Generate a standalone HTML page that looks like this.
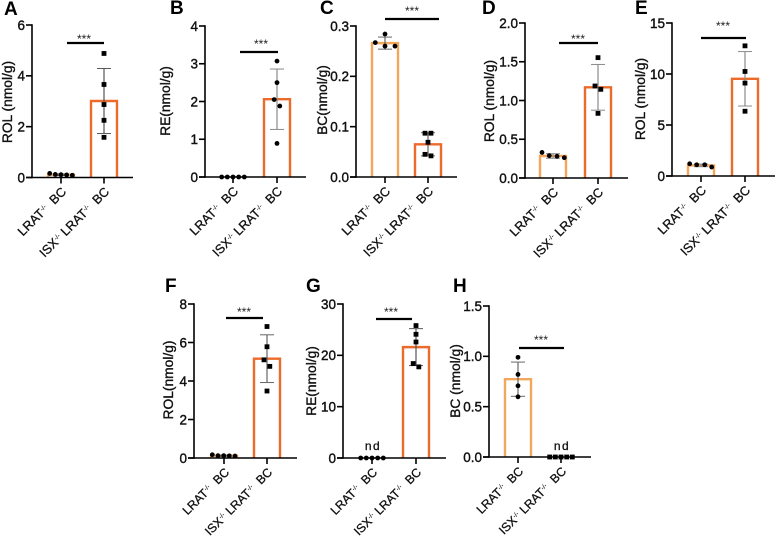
<!DOCTYPE html>
<html>
<head>
<meta charset="utf-8">
<style>
html,body{margin:0;padding:0;background:#fff;width:776px;height:541px;overflow:hidden}
svg{display:block;font-family:"Liberation Sans",sans-serif}
</style>
</head>
<body>
<svg id="figure" width="776" height="541" viewBox="0 0 776 541" xmlns="http://www.w3.org/2000/svg"></svg>
<script>
// ---- Data ----
const categoriesLeftFirst = ['LRAT', 'ISX'];

const aTicks = ['0', '2', '4', '6'];
const aLeftValues = [0.16, 0.12, 0.11, 0.10, 0.09];
const aRightValues = [4.88, 3.66, 2.87, 2.25, 1.58];
const aMeans = [0.11, 3.01];
const aErrors = [0.03, 1.28];

const bTicks = ['0', '1', '2', '3', '4'];
const bLeftValues = [0, 0, 0, 0, 0];
const bRightValues = [3.07, 2.5, 2.05, 1.88, 0.89];
const bMeans = [0, 2.06];
const bErrors = [0, 0.8];

const cTicks = ['0.0', '0.1', '0.2', '0.3'];
const cLeftValues = [0.267, 0.284, 0.26, 0.26];
const cRightValues = [0.087, 0.087, 0.069, 0.045, 0.042];
const cMeans = [0.266, 0.065];
const cErrors = [0.012, 0.023];

const dTicks = ['0.0', '0.5', '1.0', '1.5', '2.0'];
const dLeftValues = [0.33, 0.288, 0.28, 0.262];
const dRightValues = [1.553, 1.187, 1.144, 0.834];
const dMeans = [0.284, 1.17];
const dErrors = [0.03, 0.295];

const eTicks = ['0', '5', '10', '15'];
const eLeftValues = [1.2, 1.1, 1.1, 0.88];
const eRightValues = [12.76, 10.25, 9.11, 6.35];
const eMeans = [1.04, 9.53];
const eErrors = [0.13, 2.67];

const fTicks = ['0', '2', '4', '6', '8'];
const fLeftValues = [0.17, 0.12, 0.12, 0.11, 0.1];
const fRightValues = [6.83, 5.78, 5.1, 4.76, 3.48];
const fMeans = [0.12, 5.16];
const fErrors = [0.03, 1.24];

const gTicks = ['0', '10', '20', '30'];
const gLeftValues = [0, 0, 0, 0, 0];
const gRightValues = [25.8, 24.1, 22.6, 18.4, 17.75];
const gMeans = [0, 21.6];
const gErrors = [0, 3.6];

const hTicks = ['0.0', '0.5', '1.0', '1.5'];
const hLeftValues = [0.99, 0.82, 0.707, 0.598];
const hRightValues = [0, 0, 0, 0, 0];
const hMeans = [0.773, 0];
const hErrors = [0.17, 0];

// ---- Panel wiring and layout ----
const LIGHT = '#f3a75c', DARK = '#ec6a2a';
const panels = [
 {id:'A',yTitle:'ROL (nmol/g)',max:6,ticks:aTicks,left:aLeftValues,right:aRightValues,means:aMeans,errs:aErrors,xFont:12.7,
  ax:32,top:25,bottom:177.5,end:133,t1:61,t2:104,sig:[67,104,43],star:[84,38],lx:4,ly:15,tx:12,ty:102,
  leftJ:[-11.3,-5.7,0,5.7,11.3],rightJ:[0,0,0,0,0],leftS:'circle',rightS:'square',err:'#555'},
 {id:'B',yTitle:'RE(nmol/g)',max:4,ticks:bTicks,left:bLeftValues,right:bRightValues,means:bMeans,errs:bErrors,xFont:12.7,
  ax:205,top:26,bottom:177,end:306,t1:233,t2:277,sig:[240,278,52],star:[261,43],lx:170,ly:14,tx:170,ty:101,
  leftJ:[-11.3,-5.7,0,5.7,11.3],rightJ:[0,0,-2.8,2.8,0],leftS:'circle',rightS:'circle',err:'#8a8a8a'},
 {id:'C',yTitle:'BC(nmol/g)',max:0.3,ticks:cTicks,left:cLeftValues,right:cRightValues,means:cMeans,errs:cErrors,xFont:12.7,
  ax:356,top:26,bottom:177,end:457,t1:385,t2:428,sig:[385,439,19],star:[412,10],lx:320,ly:14,tx:327,ty:100,
  leftJ:[-9.7,0,0,10],rightJ:[-3,3,0,-3,3],leftS:'circle',rightS:'square',err:'#666'},
 {id:'D',yTitle:'ROL (nmol/g)',max:2,ticks:dTicks,left:dLeftValues,right:dRightValues,means:dMeans,errs:dErrors,xFont:12.7,
  ax:525,top:23,bottom:178,end:628,t1:553,t2:598,sig:[559,598,43],star:[578,38],lx:482,ly:14,tx:494,ty:101,
  leftJ:[-11,-3.7,4,11.3],rightJ:[0,-3,2.8,0],leftS:'circle',rightS:'square',err:'#8a8a8a'},
 {id:'E',yTitle:'ROL (nmol/g)',max:15,ticks:eTicks,left:eLeftValues,right:eRightValues,means:eMeans,errs:eErrors,xFont:12.7,
  ax:672,top:23,bottom:176,end:775,t1:701,t2:745,sig:[701,746,38],star:[723,25],lx:635,ly:14,tx:645,ty:99,
  leftJ:[-11.3,-4.3,3.7,10.7],rightJ:[0,0,0,0],leftS:'circle',rightS:'square',err:'#8a8a8a'},
 {id:'F',yTitle:'ROL(nmol/g)',max:8,ticks:fTicks,left:fLeftValues,right:fRightValues,means:fMeans,errs:fErrors,xFont:12.2,
  ax:194,top:304,bottom:458,end:297,t1:224,t2:267,sig:[226,263,318],star:[244,311],lx:165,ly:292,tx:173,ty:380,
  leftJ:[-11.7,-6,-0.3,5.3,11],rightJ:[0,0,-3,2.8,0],leftS:'circle',rightS:'square',err:'#666'},
 {id:'G',yTitle:'RE(nmol/g)',max:30,ticks:gTicks,left:gLeftValues,right:gRightValues,means:gMeans,errs:gErrors,xFont:12.2,
  ax:343,top:304,bottom:458,end:446,t1:372,t2:416,sig:[376,412,319],star:[391,311],lx:306,ly:292,tx:316,ty:381,
  leftJ:[-11.3,-5.7,0,5.7,11.3],rightJ:[0,0,0,-2.8,2.8],leftS:'circle',rightS:'square',err:'#555',nd:[373,450]},
 {id:'H',yTitle:'BC (nmol/g)',max:1.5,ticks:hTicks,left:hLeftValues,right:hRightValues,means:hMeans,errs:hErrors,xFont:12.2,
  ax:489,top:306,bottom:457,end:591,t1:518,t2:561,sig:[519,564,348],star:[541,339],lx:453,ly:292,tx:460,ty:381,
  leftJ:[0,0,0,0],rightJ:[-11.3,-5.7,0,5.7,11.3],leftS:'circle',rightS:'square',err:'#666',nd:[562,450]}
];

const NS = 'http://www.w3.org/2000/svg';
const svg = document.getElementById('figure');

function make(parent, tag, attrs, text) {
  const el = document.createElementNS(NS, tag);
  for (const k in attrs) el.setAttribute(k, attrs[k]);
  if (text !== undefined) el.textContent = text;
  parent.appendChild(el);
  return el;
}

function yScale(p) {
  return v => p.bottom - (v / p.max) * (p.bottom - p.top);
}

function drawMarker(g, shape, x, y) {
  if (shape === 'circle') {
    const c = make(g, 'circle', {cx: x, cy: y, r: 2.4, fill: '#000'});
    
    
  } else {
    const s = make(g, 'rect', {x: x - 2.4, y: y - 2.4, width: 4.8, height: 4.8, fill: '#000'});
    
    
  }
}

function drawXLabel(g, isIsx, x, y, size) {
  const t = make(g, 'text', {
    transform: 'rotate(-45 ' + x + ' ' + y + ')',
    x: x, y: y, 'text-anchor': 'end', 'font-size': size, fill: '#111',
    stroke: '#111', 'stroke-width': 0.3
  });
  
  
  if (isIsx) {
    make(t, 'tspan', {}, 'ISX');
    make(t, 'tspan', {dy: -4, 'font-size': 6.5, 'stroke-width': 0.1}, '-/-');
    make(t, 'tspan', {dy: 4}, '\u00a0LRAT');
  } else {
    make(t, 'tspan', {}, 'LRAT');
  }
  make(t, 'tspan', {dy: -4, 'font-size': 6.5, 'stroke-width': 0.1}, '-/-');
  make(t, 'tspan', {dy: 4}, '\u00a0\u00a0BC');
}

panels.forEach(p => {
  const y = yScale(p);
  const g = make(svg, 'g', {});
  
  

  const letter = make(g, 'text', {x: p.lx, y: p.ly, 'font-size': 19, 'font-weight': 'bold', fill: '#000'}, p.id);
  
  

  const title = make(g, 'text', {
    x: p.tx, y: p.ty, 'text-anchor': 'middle', 'font-size': 13.8, fill: '#111', stroke: '#111', 'stroke-width': 0.35,
    transform: 'rotate(-90 ' + p.tx + ' ' + p.ty + ')'
  }, p.yTitle);
  
  

  // bars
  [[p.t1, LIGHT, 0], [p.t2, DARK, 1]].forEach(b => {
    const barTop = y(p.means[b[2]]);
    if (p.means[b[2]] > 0) {
      const bar = make(g, 'path', {
        d: 'M' + (b[0] - 13) + ' ' + p.bottom + 'V' + barTop + 'H' + (b[0] + 13) + 'V' + p.bottom,
        fill: 'none', stroke: b[1], 'stroke-width': 2.4
      });
      
      
    }
  });

  // error bars
  [[p.t1, 0], [p.t2, 1]].forEach(b => {
    const m = p.means[b[1]], e = p.errs[b[1]];
    if (e > 0) {
      const eg = make(g, 'g', {stroke: p.err, 'stroke-width': 1, fill: 'none'});
      
      
      make(eg, 'line', {x1: b[0], x2: b[0], y1: y(m + e), y2: y(m - e), 'stroke-width': 1.2});
      make(eg, 'line', {x1: b[0] - 7, x2: b[0] + 7, y1: y(m + e), y2: y(m + e)});
      make(eg, 'line', {x1: b[0] - 7, x2: b[0] + 7, y1: y(m - e), y2: y(m - e)});
    }
  });

  // axes
  const axes = make(g, 'g', {stroke: '#000', 'stroke-width': 1.6, fill: 'none'});
  
  
  make(axes, 'line', {x1: p.ax, x2: p.ax, y1: p.top - 0.8, y2: p.bottom + 0.8});
  make(axes, 'line', {x1: p.ax - 6, x2: p.end, y1: p.bottom, y2: p.bottom});
  make(axes, 'line', {x1: p.t1, x2: p.t1, y1: p.bottom, y2: p.bottom + 6});
  make(axes, 'line', {x1: p.t2, x2: p.t2, y1: p.bottom, y2: p.bottom + 6});

  p.ticks.forEach(lbl => {
    const ty = y(parseFloat(lbl));
    make(axes, 'line', {x1: p.ax - 6, x2: p.ax, y1: ty, y2: ty});
    const t = make(g, 'text', {
      x: p.ax - 7, y: ty + 4.8, 'text-anchor': 'end', 'font-size': 13.5, fill: '#111', stroke: '#111', 'stroke-width': 0.4
    }, lbl);
    
    
  });

  // points
  p.left.forEach((v, i) => drawMarker(g, p.leftS, p.t1 + p.leftJ[i], y(v)));
  p.right.forEach((v, i) => drawMarker(g, p.rightS, p.t2 + p.rightJ[i], y(v)));

  // significance
  const sig = make(g, 'line', {x1: p.sig[0], x2: p.sig[1], y1: p.sig[2], y2: p.sig[2], stroke: '#000', 'stroke-width': 2.2});
  
  
  const star = make(g, 'text', {x: p.star[0], y: p.star[1] + 5, 'text-anchor': 'middle', 'font-size': 12, fill: '#222'}, '***');
  
  

  if (p.nd) {
    const nd = make(g, 'text', {x: p.nd[0], y: p.nd[1], 'text-anchor': 'middle', 'font-size': 12, 'letter-spacing': 1.5, fill: '#111', stroke: '#111', 'stroke-width': 0.3}, 'nd');
    
    
  }

  drawXLabel(g, categoriesLeftFirst[0] === 'ISX', p.t1 + 6, p.bottom + 15, p.xFont);
  drawXLabel(g, categoriesLeftFirst[1] === 'ISX', p.t2 + 6, p.bottom + 15, p.xFont);
});
</script>
</body>
</html>
